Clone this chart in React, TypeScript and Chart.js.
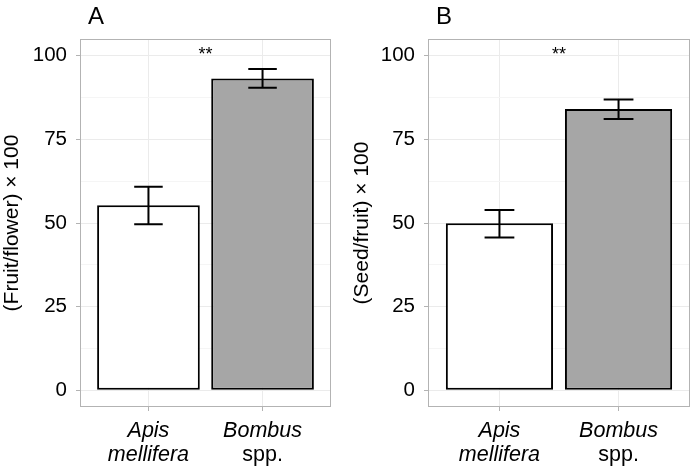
import React, { useEffect, useRef } from 'react';
import { Chart, registerables } from 'chart.js';

Chart.register(...registerables);

const categories = ['Apis mellifera', 'Bombus spp.'];
const labelLine1 = ['Apis', 'Bombus'];
const labelLine2 = ['mellifera', 'spp.'];
const line1Italic = [true, true];
const line2Italic = [true, false];

const fruitMean = [55.3, 93.2];
const fruitLow = [49.6, 90.4];
const fruitHigh = [60.8, 96.0];

const seedMean = [49.9, 84.1];
const seedLow = [45.7, 81.1];
const seedHigh = [53.9, 86.9];

const barColors = ['#FFFFFF', '#A6A6A6'];
const yTicks = [0, 12.5, 25, 37.5, 50, 62.5, 75, 87.5, 100];
const yMajor = [0, 25, 50, 75, 100];
const signifText = '**';
const signifX = 0.5;
const signifY = 98.6;

const FONT = "'Liberation Sans', Arial, Helvetica, sans-serif";

type PanelProps = {
  letter: string;
  yTitle: string;
  mean: number[];
  low: number[];
  high: number[];
  left: number;
  width: number;
  yAxisWidth: number;
  rightPad: number;
  titlePad: number;
};

function Panel(p: PanelProps) {
  const ref = useRef<HTMLCanvasElement | null>(null);
  useEffect(() => {
    if (!ref.current) return;
    const overlay = {
      id: 'overlay' + p.letter,
      afterDatasetsDraw(chart: any) {
        const ctx = chart.ctx;
        const xs = chart.scales.x;
        const ys = chart.scales.y;
        const area = chart.chartArea;
        ctx.save();
        // error bars
        ctx.strokeStyle = '#000';
        ctx.lineWidth = 2;
        const half = xs.getPixelForValue(0.125) - xs.getPixelForValue(0);
        for (let i = 0; i < p.mean.length; i++) {
          const x = xs.getPixelForValue(i);
          const yh = ys.getPixelForValue(p.high[i]);
          const yl = ys.getPixelForValue(p.low[i]);
          ctx.beginPath();
          ctx.moveTo(x, yh);
          ctx.lineTo(x, yl);
          ctx.moveTo(x - half, yh);
          ctx.lineTo(x + half, yh);
          ctx.moveTo(x - half, yl);
          ctx.lineTo(x + half, yl);
          ctx.stroke();
        }
        // panel border
        ctx.strokeStyle = '#B3B3B3';
        ctx.lineWidth = 1;
        ctx.strokeRect(area.left + 0.5, area.top + 0.5, area.right - area.left - 1, area.bottom - area.top - 1);
        // significance
        ctx.fillStyle = '#000';
        ctx.font = `18px ${FONT}`;
        ctx.textAlign = 'center';
        ctx.textBaseline = 'alphabetic';
        ctx.fillText(signifText, xs.getPixelForValue(signifX), ys.getPixelForValue(signifY));
        // x labels
        for (let i = 0; i < categories.length; i++) {
          const x = xs.getPixelForValue(i);
          ctx.font = `${line1Italic[i] ? 'italic ' : ''}21.5px ${FONT}`;
          ctx.fillText(labelLine1[i], x, area.bottom + 30);
          ctx.font = `${line2Italic[i] ? 'italic ' : ''}21.5px ${FONT}`;
          ctx.fillText(labelLine2[i], x, area.bottom + 54);
        }
        // panel letter
        ctx.font = `24px ${FONT}`;
        ctx.textAlign = 'left';
        ctx.fillText(p.letter, area.left + 8, 24);
        ctx.restore();
      },
    };
    const chart = new Chart(ref.current, {
      type: 'bar',
      data: {
        datasets: [
          {
            data: p.mean.map((v, i) => ({ x: i, y: v })),
            backgroundColor: barColors,
            borderColor: '#000',
            borderWidth: 2,
            borderSkipped: false,
            barPercentage: 0.9,
            categoryPercentage: 1.0,
          } as any,
        ],
      },
      options: {
        responsive: false,
        animation: false,
        devicePixelRatio: 1,
        layout: { padding: { left: 0, right: p.rightPad, top: 39, bottom: 0 } },
        plugins: { legend: { display: false }, tooltip: { enabled: false } },
        scales: {
          x: {
            type: 'linear',
            min: -0.6,
            max: 1.6,
            offset: false,
            afterBuildTicks: (s: any) => {
              s.ticks = categories.map((_, i) => ({ value: i }));
            },
            afterFit: (s: any) => {
              s.height = 60;
            },
            ticks: { display: false },
            grid: { offset: false, color: '#EBEBEB', tickColor: '#B3B3B3', tickLength: 4, lineWidth: 1 },
            border: { display: false },
          },
          y: {
            type: 'linear',
            min: -5,
            max: 105,
            afterBuildTicks: (s: any) => {
              s.ticks = yTicks.map((v) => ({ value: v }));
            },
            afterFit: (s: any) => {
              s.width = p.yAxisWidth;
            },
            ticks: {
              padding: 9,
              color: '#000',
              font: { family: FONT, size: 20.5 },
              callback: (v: any) => (yMajor.includes(Number(v)) ? String(v) : ''),
            },
            grid: {
              color: (c: any) => (yMajor.includes(c.tick?.value) ? '#EBEBEB' : '#F5F5F5'),
              tickColor: (c: any) => (yMajor.includes(c.tick?.value) ? '#B3B3B3' : 'rgba(0,0,0,0)'),
              tickLength: 4,
              lineWidth: 1,
            },
            border: { display: false },
            title: {
              display: true,
              text: p.yTitle,
              color: '#000',
              font: { family: FONT, size: 21 },
              padding: { top: p.titlePad, bottom: 0 },
            },
          },
        },
      } as any,
      plugins: [overlay],
    });
    return () => chart.destroy();
  }, []);
  return (
    <canvas
      ref={ref}
      width={p.width}
      height={467}
      style={{ position: 'absolute', left: p.left, top: 0, width: p.width, height: 467 }}
    />
  );
}

export default function App() {
  return (
    <div style={{ position: 'fixed', left: 0, top: 0, width: 693, height: 467, background: '#fff' }}>
      <Panel letter="A" yTitle="(Fruit/flower) × 100" mean={fruitMean} low={fruitLow} high={fruitHigh}
        left={0} width={346} yAxisWidth={80} rightPad={15} titlePad={0} />
      <Panel letter="B" yTitle="(Seed/fruit) × 100" mean={seedMean} low={seedLow} high={seedHigh}
        left={346} width={347} yAxisWidth={82} rightPad={3} titlePad={4} />
    </div>
  );
}
